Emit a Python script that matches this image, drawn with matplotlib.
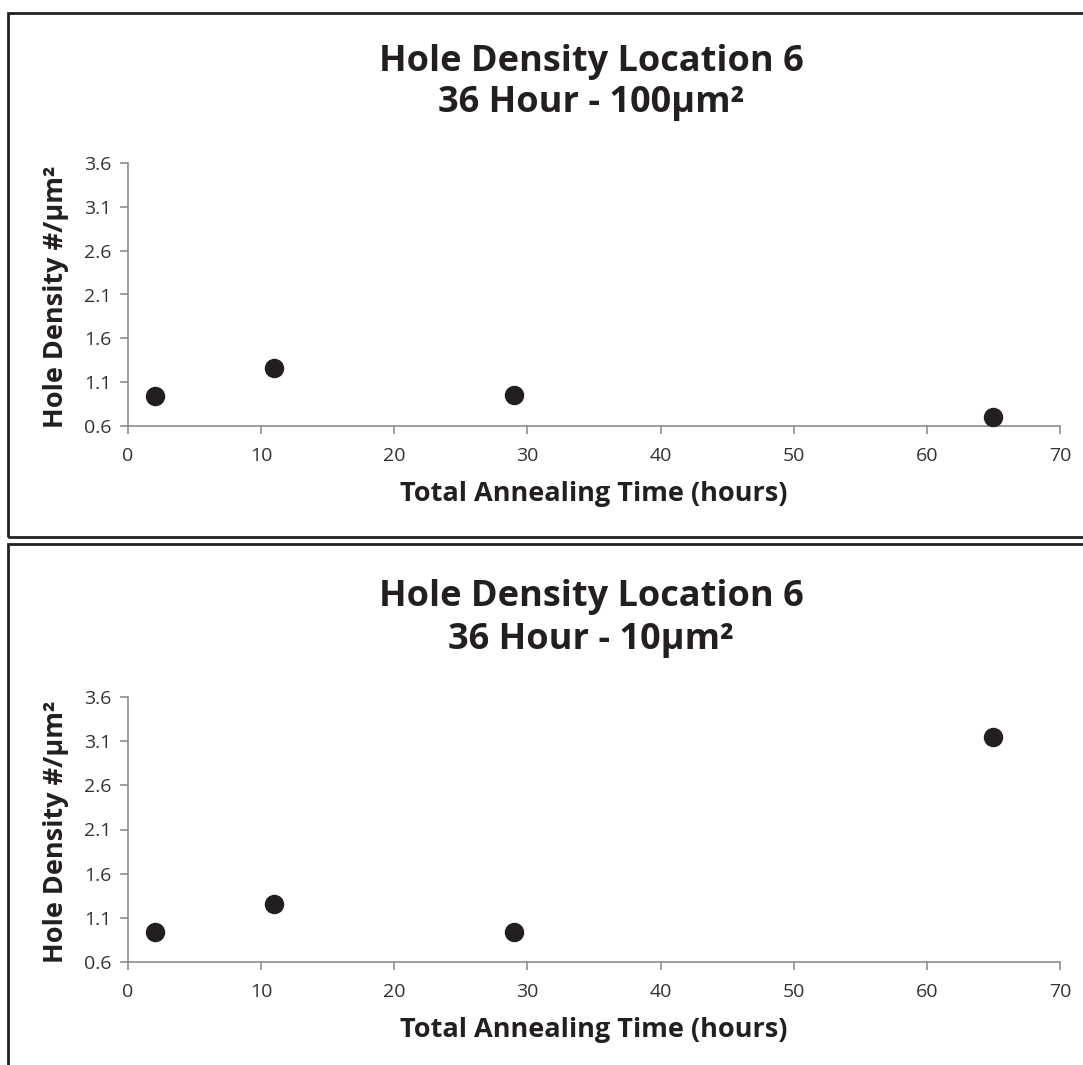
import matplotlib
matplotlib.use("Agg")
import matplotlib.pyplot as plt
from matplotlib.patches import Rectangle

# Annealing times (hours) and measured hole densities (#/µm²)
anneal_hours = [2, 11, 29, 65]
density_100um2 = [0.94, 1.26, 0.95, 0.70]
density_10um2 = [0.94, 1.26, 0.94, 3.15]

panel_titles = [
    "Hole Density Location 6\n36 Hour - 100µm²",
    "Hole Density Location 6\n36 Hour - 10µm²",
]
y_ticks = [0.6, 1.1, 1.6, 2.1, 2.6, 3.1, 3.6]
x_ticks = [0, 10, 20, 30, 40, 50, 60, 70]

plt.rcParams["font.family"] = ["Open Sans", "DejaVu Sans"]

W, H = 1083, 1065
fig = plt.figure(figsize=(W / 100, H / 100), dpi=100)


def fx(px):
    return px / W


def fy(py):
    return 1 - py / H


axis_grey = "#8c8c8c"
text_dark = "#231f20"

# Panel frames
fig.add_artist(Rectangle((fx(8), fy(537)), fx(1200), fy(13) - fy(537),
                         transform=fig.transFigure, fill=False,
                         edgecolor="#222222", linewidth=2))
fig.add_artist(Rectangle((fx(8), fy(1200)), fx(1200), fy(544) - fy(1200),
                         transform=fig.transFigure, fill=False,
                         edgecolor="#222222", linewidth=2))

panels = [
    (density_100um2, 163, 426, 62, 103, 494),
    (density_10um2, 697, 962, 597, 640, 1030),
]

for (vals, top, bot, t1, t2, xl_y), title in zip(panels, panel_titles):
    ax = fig.add_axes([fx(128), fy(bot), fx(1060) - fx(128), fy(top) - fy(bot)])
    ax.scatter(anneal_hours, vals, s=13 ** 2, color=text_dark, zorder=3,
               clip_on=False)
    ax.set_xlim(0, 70)
    ax.set_ylim(0.6, 3.6)
    ax.set_xticks(x_ticks)
    ax.set_yticks(y_ticks)
    ax.set_yticklabels([f"{v:.1f}" for v in y_ticks])
    for side in ("top", "right"):
        ax.spines[side].set_visible(False)
    for side in ("left", "bottom"):
        ax.spines[side].set_color(axis_grey)
        ax.spines[side].set_linewidth(1.2)
    ax.tick_params(direction="out", length=6, width=1.2, color=axis_grey,
                   labelsize=14, labelcolor="#333333")
    ax.tick_params(axis="x", pad=9)
    ax.tick_params(axis="y", pad=6)

    line1, line2 = title.split("\n")
    fig.text(fx(591), fy(t1), line1, ha="center", va="center",
             fontsize=26, fontweight="bold", color=text_dark)
    fig.text(fx(591), fy(t2), line2, ha="center", va="center",
             fontsize=26, fontweight="bold", color=text_dark)
    fig.text(fx(594), fy(xl_y), "Total Annealing Time (hours)",
             ha="center", va="center", fontsize=19.5, fontweight="bold",
             color=text_dark)
    fig.text(fx(56), fy((top + bot) / 2 + 2), "Hole Density #/µm²",
             ha="center", va="center", rotation=90, fontsize=19.5,
             fontweight="bold", color=text_dark)

fig.savefig("out.png", dpi=100)
